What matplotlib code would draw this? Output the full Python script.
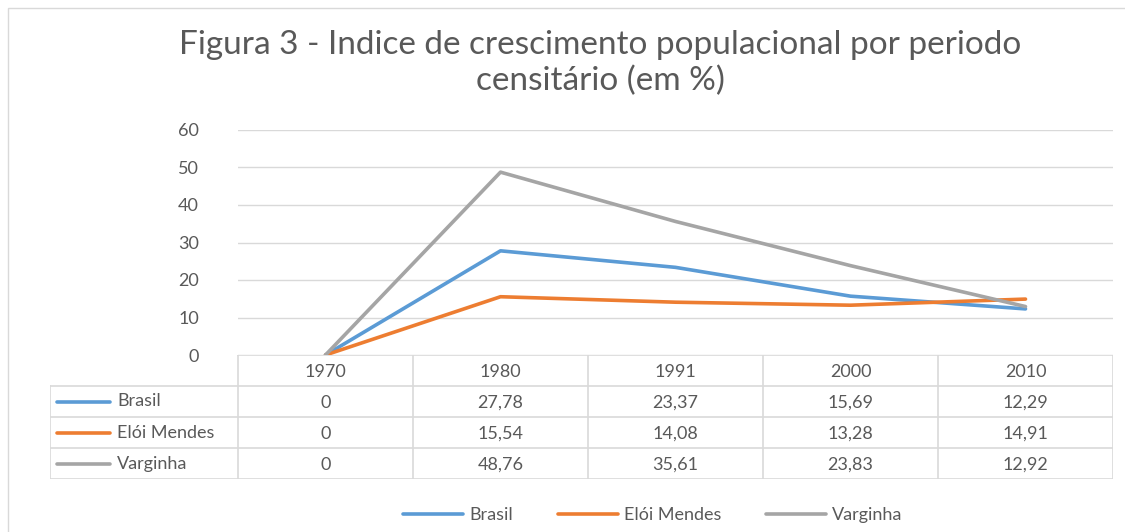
import matplotlib.pyplot as plt
from matplotlib.lines import Line2D
from matplotlib.patches import Rectangle

anos = ["1970", "1980", "1991", "2000", "2010"]
series = ["Brasil", "Elói Mendes", "Varginha"]
brasil = [0, 27.78, 23.37, 15.69, 12.29]
eloi_mendes = [0, 15.54, 14.08, 13.28, 14.91]
varginha = [0, 48.76, 35.61, 23.83, 12.92]
valores = [brasil, eloi_mendes, varginha]
cores = ["#5B9BD5", "#ED7D31", "#A5A5A5"]
titulo = "Figura 3 - Indice de crescimento populacional por periodo\ncensitário (em %)"

plt.rcParams['font.family'] = ['Lato', 'DejaVu Sans']
texto = "#595959"
grade = "#D9D9D9"
fs = 13

W, H = 1125, 532
fig = plt.figure(figsize=(W / 100, H / 100), dpi=100)


def box(x0, y0, x1, y1):
    # pixel box (top-left origin) -> figure fraction
    return [x0 / W, 1 - y1 / H, (x1 - x0) / W, (y1 - y0) / H]


# outer chart border
fig.add_artist(Rectangle((8 / W, -0.05), 1.2, 1 - 8 / H + 0.05, transform=fig.transFigure,
                         fill=False, edgecolor=grade, lw=1))

fig.text(600 / W, 1 - 63 / H, titulo, ha="center", va="center", fontsize=24,
         color=texto, linespacing=1.25)

# plot area
ax = fig.add_axes(box(238, 130, 1113, 355))
x = list(range(len(anos)))
for nome, vals, c in zip(series, valores, cores):
    ax.plot(x, vals, color=c, lw=2.6, solid_capstyle="round", solid_joinstyle="round", label=nome)
ax.set_xlim(-0.5, len(anos) - 0.5)
ax.set_ylim(0, 60)
ax.set_yticks(range(0, 61, 10))
ax.yaxis.grid(True, color=grade, lw=1)
ax.set_axisbelow(True)
ax.set_xticks([])
for s in ax.spines.values():
    s.set_visible(False)
ax.tick_params(axis="y", length=0, pad=28, labelsize=fs, labelcolor=texto)

# data table
unit = (1113 - 238) / len(anos)
tx0 = -0.5 - (238 - 50) / unit
tab = fig.add_axes(box(50, 355, 1113, 479))
tab.set_xlim(tx0, len(anos) - 0.5)
tab.set_ylim(4, 0)
tab.axis("off")
lc = dict(color=grade, lw=1.2)
# rows: 0 header, 1..3 series
tab.plot([-0.5, len(anos) - 0.5], [0, 0], **lc)
for r in range(1, 5):
    tab.plot([tx0, len(anos) - 0.5], [r, r], **lc)
tab.plot([tx0, tx0], [1, 4], **lc)
for i in range(len(anos) + 1):
    tab.plot([i - 0.5, i - 0.5], [0, 4], **lc)
for i, a in enumerate(anos):
    tab.text(i, 0.55, a, ha="center", va="center", fontsize=fs, color=texto)
for r, (nome, vals, c) in enumerate(zip(series, valores, cores), start=1):
    kx0 = tx0 + 7 / unit
    tab.plot([kx0, kx0 + 53 / unit], [r + 0.5, r + 0.5], color=c, lw=2.6, solid_capstyle="round")
    tab.text(kx0 + 60 / unit, r + 0.5, nome, ha="left", va="center", fontsize=fs, color=texto)
    for i, v in enumerate(vals):
        s = ("%.2f" % v).replace(".", ",") if v != 0 else "0"
        tab.text(i, r + 0.55, s, ha="center", va="center", fontsize=fs, color=texto)

# legend
handles = [Line2D([0], [0], color=c, lw=2.6, solid_capstyle="round") for c in cores]
fig.legend(handles, series, loc="center", bbox_to_anchor=(653 / W, 1 - 515 / H), ncol=3,
           frameon=False, fontsize=fs, labelcolor=texto, handlelength=3.3,
           handletextpad=0.35, columnspacing=2.5)

fig.savefig("out.png", dpi=100)
